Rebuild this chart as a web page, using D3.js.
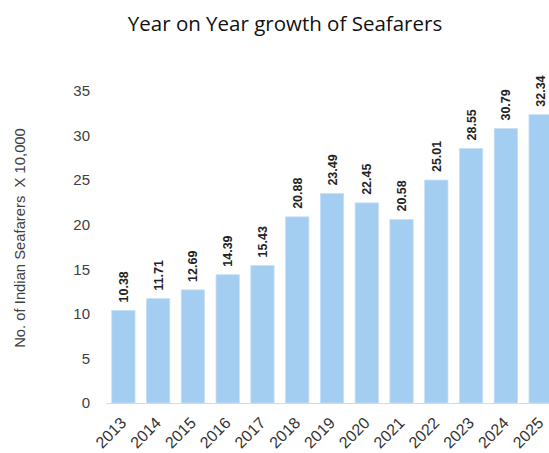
<!DOCTYPE html>
<html><head><meta charset="utf-8">
<script src="https://cdn.jsdelivr.net/npm/d3@7"></script>
<style>body{margin:0;background:#fff}svg{display:block}</style>
</head><body>
<svg id="c" width="549" height="453"></svg>
<script>
const years = ["2013","2014","2015","2016","2017","2018","2019","2020","2021","2022","2023","2024","2025"];
const values = [10.38,11.71,12.69,14.39,15.43,20.88,23.49,22.45,20.58,25.01,28.55,30.79,32.34];
const yTicks = [0,5,10,15,20,25,30,35];
const title = "Year on Year growth of Seafarers";
const yLabel = "No. of Indian Seafarers  X 10,000";

const svg = d3.select("#c");
const x = d3.scaleBand().domain(years).range([106, 558]).paddingInner(0.33).paddingOuter(0.165);
const y = d3.scaleLinear().domain([0, 35]).range([403, 91]);

svg.append("text").attr("x", 285).attr("y", 31).attr("text-anchor", "middle")
  .attr("font-family", "Open Sans, sans-serif").attr("font-size", 20.5).attr("fill", "#111").text(title);

svg.append("text").attr("transform", "translate(25,238) rotate(-90)").attr("text-anchor", "middle")
  .style("white-space", "pre")
  .attr("font-family", "Liberation Sans, Arial, sans-serif").attr("font-size", 14.8).attr("fill", "#404040").text(yLabel);

// y axis labels
const yAxis = d3.axisLeft(y).tickValues(yTicks).tickSize(0).tickPadding(0);
const ya = svg.append("g").attr("transform", "translate(90,0)").call(yAxis);
ya.select(".domain").remove();
ya.selectAll("text").attr("font-family", "Liberation Sans, Arial, sans-serif").attr("font-size", 15).attr("fill", "#404040");

// bars
svg.selectAll("rect.bar").data(values).join("rect").attr("class", "bar")
  .attr("x", (d, i) => x(years[i])).attr("width", x.bandwidth())
  .attr("y", d => y(d)).attr("height", d => y(0) - y(d))
  .attr("fill", "#a3cdf1").attr("stroke", "#c6e0f6").attr("stroke-width", 0.8);

// x axis
const xAxis = d3.axisBottom(x).tickSize(0).tickPadding(0);
const xa = svg.append("g").attr("transform", `translate(0,${y(0)})`).call(xAxis);
xa.select(".domain").attr("stroke", "#d9d9d9").attr("stroke-width", 1.2);
xa.selectAll("text").attr("font-family", "Liberation Sans, Arial, sans-serif").attr("font-size", 16).attr("fill", "#333")
  .attr("text-anchor", "end").attr("dy", null).attr("y", 0)
  .attr("transform", "translate(4,21) rotate(-45)");

// value labels
svg.selectAll("text.val").data(values).join("text").attr("class", "val")
  .attr("transform", (d, i) => `translate(${x(years[i]) + x.bandwidth() / 2 + 4.5},${y(d) - 8}) rotate(-90)`)
  .attr("font-family", "Liberation Sans, Arial, sans-serif").attr("font-size", 12.5).attr("font-weight", "bold")
  .attr("fill", "#222").text(d => d.toFixed(2));
</script>
</body></html>
